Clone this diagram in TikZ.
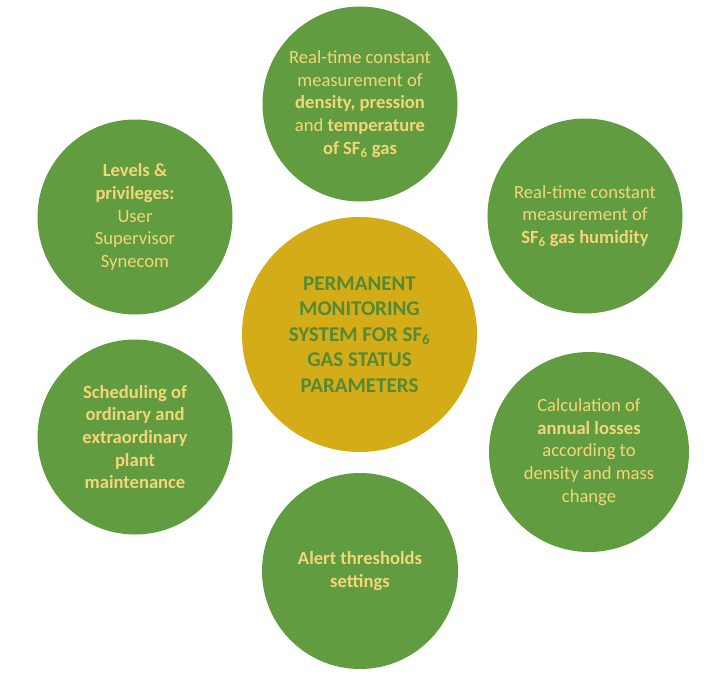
\documentclass[tikz,border=0pt]{standalone}
\usepackage{fontspec}
\setmainfont{Carlito}
\usepackage{xcolor}
\definecolor{leafgreen}{HTML}{629C40}
\definecolor{goldhub}{HTML}{D4AC18}
\definecolor{paleyellow}{HTML}{F4D57A}
\definecolor{darkgreen}{HTML}{548A35}
\newcommand{\sfgas}{SF\textsubscript{6}}

\tikzset{
    petal/.style={circle,fill=leafgreen,text=paleyellow,align=center,inner sep=0pt,
        font=\fontsize{18.6}{22.7}\selectfont},
    hub/.style={circle,fill=goldhub,text=darkgreen,align=center,inner sep=0pt,
        font=\fontsize{21}{25.5}\selectfont\bfseries}
}

\begin{document}
\begin{tikzpicture}[x=1pt,y=-1pt]
        \useasboundingbox (0,0) rectangle (727,690);
        % Central circle
        \node[hub,minimum size=235pt] (hub) at (359.5,334.5)
            {PERMANENT\\MONITORING\\SYSTEM FOR \sfgas\\GAS STATUS\\PARAMETERS};
        % Surrounding circles, clockwise from the top
        \node[petal,minimum size=195pt] (density) at (360,104)
            {Real-time constant\\measurement of\\\textbf{density, pression}\\and \textbf{temperature}\\\textbf{of \sfgas{} gas}};
        \node[petal,minimum size=195pt] (humidity) at (585,216)
            {Real-time constant\\measurement of\\\textbf{\sfgas{} gas humidity}};
        \node[petal,minimum size=200pt] (losses) at (589,452)
            {Calculation of\\\textbf{annual losses}\\according to\\density and mass\\change};
        \node[petal,minimum size=196pt] (alert) at (360,571)
            {\textbf{Alert thresholds}\\\textbf{settings}};
        \node[petal,minimum size=195pt] (schedule) at (135,437)
            {\textbf{Scheduling of}\\\textbf{ordinary and}\\\textbf{extraordinary}\\\textbf{plant}\\\textbf{maintenance}};
        \node[petal,minimum size=195pt] (levels) at (135,217)
            {\textbf{Levels \&}\\\textbf{privileges:}\\User\\Supervisor\\Synecom};
    \end{tikzpicture}
\end{document}
